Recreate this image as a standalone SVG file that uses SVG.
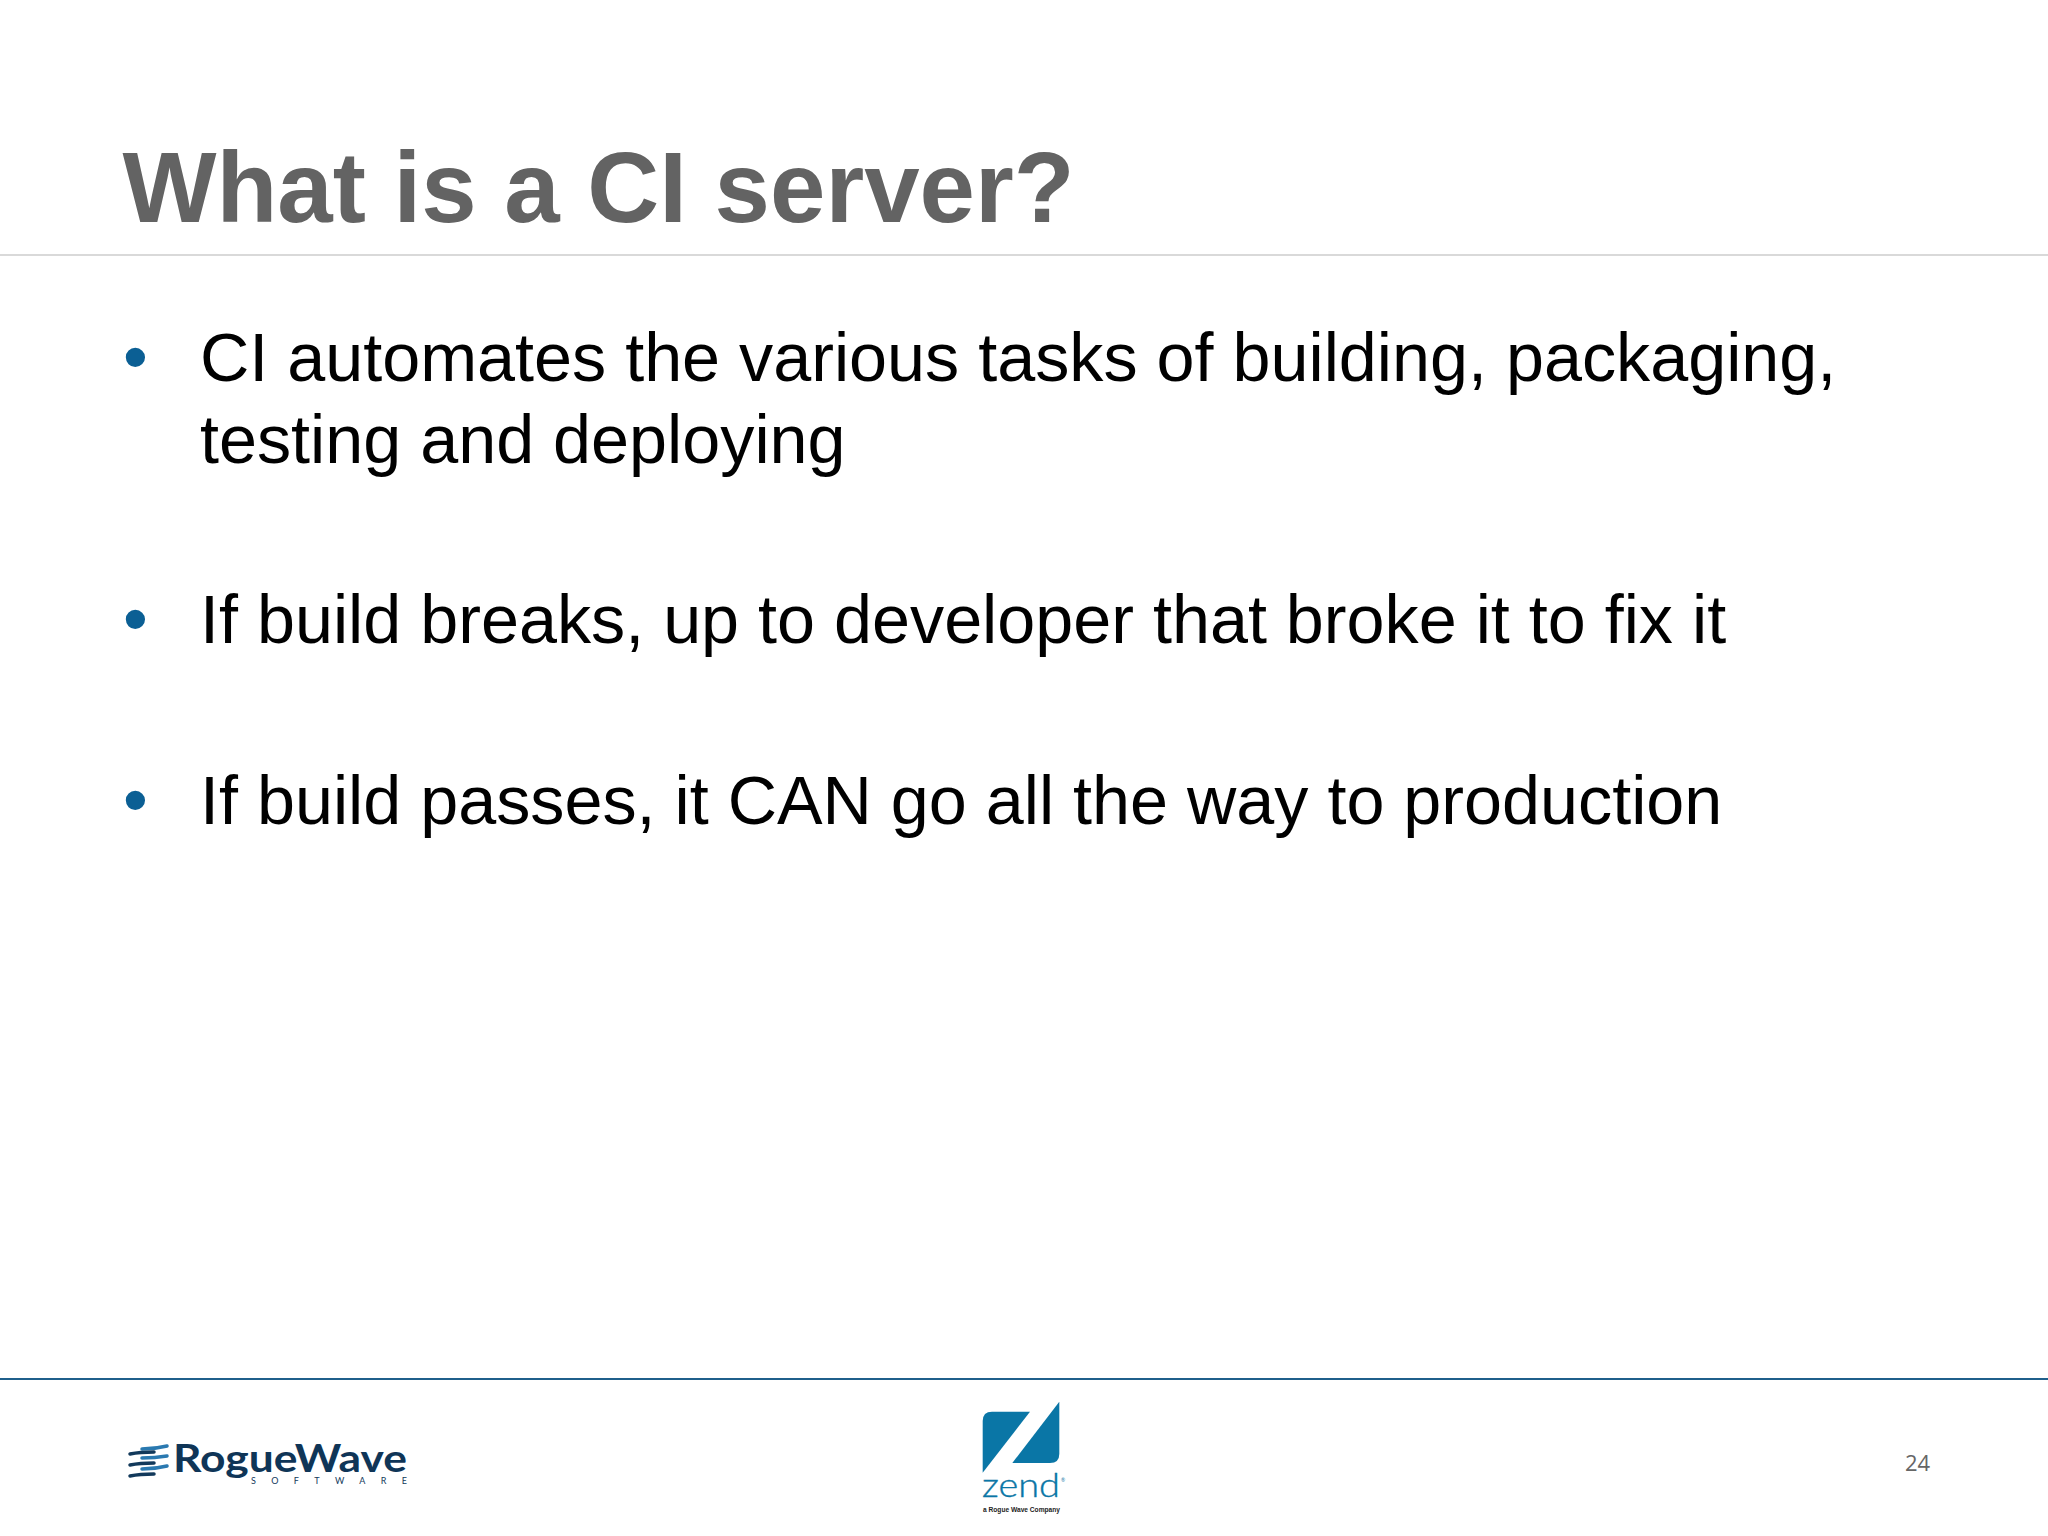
<svg xmlns="http://www.w3.org/2000/svg" width="2048" height="1536" viewBox="0 0 2048 1536">
<style>
.t{font-family:"Liberation Sans",Arial,sans-serif}
.title{font-size:99.6px;font-weight:700;fill:#636363}
.body{font-size:68.3px;fill:#000}
.bul{font-size:71px;fill:#0b5f94}
.d{fill:none;stroke:#12395b;stroke-width:3.5;stroke-linecap:round}
.l{fill:none;stroke:#2a79b0;stroke-width:3.5;stroke-linecap:round}
</style>
<rect width="2048" height="1536" fill="#fff"/>
<g id="title"><text class="t title" x="122.5" y="222">What is a CI server?</text></g>
<rect id="title-rule" x="0" y="254" width="2048" height="2" fill="#d9d9d9"/>
<g id="bullet-1">
<text class="t bul" x="123" y="381">•</text>
<text class="t body" x="200" y="381">CI automates the various tasks of building, packaging,</text>
<text class="t body" x="200" y="463">testing and deploying</text>
</g>
<g id="bullet-2">
<text class="t bul" x="123" y="643">•</text>
<text class="t body" x="200" y="643">If build breaks, up to developer that broke it to fix it</text>
</g>
<g id="bullet-3">
<text class="t bul" x="123" y="824">•</text>
<text class="t body" x="200" y="824">If build passes, it CAN go all the way to production</text>
</g>
<rect id="footer-rule" x="0" y="1378" width="2048" height="2" fill="#1f5f8b"/>
<g id="roguewave-logo">
<path class="l" d="M142 1449Q155 1449 167 1446"/>
<path class="d" d="M130 1454Q140 1452 154 1452"/>
<path class="l" d="M142 1458Q155 1458 167 1456"/>
<path class="d" d="M130 1465Q140 1463 154 1463"/>
<path class="l" d="M142 1469Q155 1469 167 1466"/>
<path class="d" d="M130 1476Q140 1474 154 1474"/>
<text x="173" y="1472" font-size="38" font-weight="700" fill="#0f3557" textLength="234" lengthAdjust="spacingAndGlyphs" style="font-family:Lato,sans-serif">RogueWave</text>
<text x="251" y="1484" font-size="9" fill="#12395b" textLength="156" style="font-family:Lato,sans-serif">SOFTWARE</text>
</g>
<g id="zend-logo">
<path d="M982.7 1472.7V1421Q982.7 1411.7 992 1411.7H1030Z" fill="#0a76a6"/>
<path d="M1059.3 1401.7V1454Q1059.3 1463 1050 1463H1012.3Z" fill="#0a76a6"/>
<text x="982" y="1497" font-size="34" font-weight="300" fill="#0a76a6" stroke="#0a76a6" stroke-width="0.4" textLength="78" lengthAdjust="spacingAndGlyphs" style="font-family:Lato,sans-serif">zend</text>
<text x="1061" y="1482" font-size="5" fill="#0a76a6" style="font-family:Lato,sans-serif">®</text>
<text class="t" x="983" y="1512" font-size="7" font-weight="700" fill="#222" textLength="77" lengthAdjust="spacingAndGlyphs">a Rogue Wave Company</text>
</g>
<g id="page-number"><text x="1905" y="1471" font-size="22" fill="#666" style="font-family:'Open Sans',sans-serif">24</text></g>
</svg>
